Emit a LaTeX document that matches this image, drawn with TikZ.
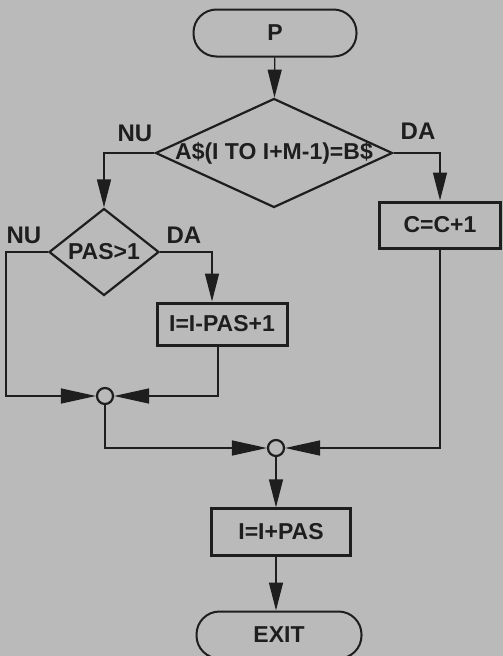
\documentclass[tikz,border=0pt]{standalone}
\usepackage{fontspec}
\setmainfont{Liberation Sans Bold}
\usepackage{tikz}
\usetikzlibrary{arrows, arrows.meta, shapes, positioning}
\definecolor{paper}{RGB}{186,186,186}
\definecolor{ink}{RGB}{30,30,30}
\tikzstyle{terminal} = [rectangle, rounded corners=23pt, draw=ink, line width=2pt, minimum width=163pt, minimum height=47pt]
\tikzstyle{decision} = [diamond, draw=ink, line width=2.2pt, inner sep=0pt]
\tikzstyle{process} = [rectangle, draw=ink, line width=3pt, minimum height=44pt]
\tikzstyle{junction} = [circle, draw=ink, line width=2.2pt, fill=paper, minimum size=16pt, inner sep=0pt]
\tikzstyle{branch} = [font=\fontsize{24}{26}\selectfont]
\tikzstyle{arr} = [-{Triangle[length=28pt, width=14pt]}]
\tikzstyle{merge} = [-{Triangle[length=35pt, width=15pt]}]

\begin{document}
\begin{tikzpicture}[x=1pt, y=-1pt, line width=1.4pt, draw=ink, text=ink,
		font=\fontsize{23}{25}\selectfont]
				\useasboundingbox (0, 0) rectangle (503, 656);
				\fill [paper] (0, 0) rectangle (503, 656);

				\node (P) [terminal] at (275, 33) {P};
				\node (Cmp) [decision, aspect=2.17, inner sep=-3pt, minimum width=237pt, minimum height=109pt] at (274, 153) {A\$(I TO I+M-1)=B\$};
				\draw [arr] (P) -- (Cmp);

				% no match: test the step
				\node (Pas) [decision, aspect=1.26, minimum width=110pt, minimum height=87pt] at (104, 252) {PAS>1};
				\draw [arr] (Cmp.west) -| (Pas.north);
				\node (NoA) [branch] at (135, 133) {NU};

				\node (Dec) [process, minimum width=130pt, minimum height=42pt] at (222, 324) {I=I-PAS+1};
				\coordinate (DecIn) at (212, 252);
				\draw [arr] (Pas.east) -- (DecIn) -- (DecIn |- Dec.north);
				\node (YesB) [branch] at (184, 235) {DA};

				\node (J1) [junction] at (105, 396) {};
				\coordinate (PasOut) at (6, 252);
				\draw [merge] (Pas.west) -- (PasOut) -- (PasOut |- J1) -- (J1);
				\node (NoB) [branch] at (24, 235) {NU};
				\coordinate (DecOut) at (218, 396);
				\draw [merge] (DecOut |- Dec.south) -- (DecOut) -- (J1);

				% match: count it
				\node (Inc) [process, minimum width=121pt, minimum height=46pt] at (440, 225) {C=C+1};
				\draw [arr] (Cmp.east) -| (Inc.north);
				\node (YesA) [branch] at (418, 131) {DA};

				\node (J2) [junction] at (276, 448) {};
				\coordinate (J1Out) at (105, 448);
				\draw [merge] (J1) -- (J1Out) -- (J2);
				\coordinate (IncOut) at (440, 448);
				\draw [merge] (Inc.south) -- (IncOut) -- (J2);

				% next position
				\node (Step) [process, line width=2.4pt, minimum width=139pt, minimum height=47pt] at (281, 532) {I=I+PAS};
				\draw [arr] (J2) -- (J2 |- Step.north);

				\node (Exit) [terminal, minimum width=165pt] at (279, 635) {EXIT};
				\draw [arr] (J2 |- Step.south) -- (J2 |- Exit.north);
			\end{tikzpicture}
\end{document}
